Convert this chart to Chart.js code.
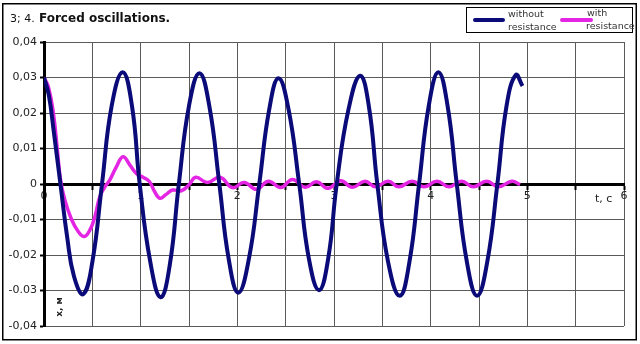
<!DOCTYPE html>
<html>
<head>
<meta charset="utf-8">
<title>Forced oscillations</title>
<script src="https://cdn.jsdelivr.net/npm/chart.js@4/dist/chart.umd.min.js"></script>
<style>
  html, body { margin: 0; padding: 0; background: #fff; }
  #wrap { width: 640px; height: 344px; }
</style>
</head>
<body>
<div id="wrap"><canvas id="chart" width="640" height="344"></canvas></div>
<script>
// time, s
const tBlue = [0, 0.05, 0.10, 0.17, 0.24, 0.31, 0.406, 0.50, 0.60, 0.70, 0.814, 0.91, 0.99, 1.10, 1.206,
  1.30, 1.395, 1.50, 1.608, 1.71, 1.814, 1.91, 2.01, 2.12, 2.227, 2.33, 2.426, 2.53, 2.64, 2.74, 2.845,
  2.94, 3.028, 3.15, 3.27, 3.36, 3.448, 3.56, 3.68, 3.78, 3.88, 3.98, 4.08, 4.175, 4.27, 4.375, 4.48,
  4.585, 4.69, 4.785, 4.88, 4.95];
// x, m  (without resistance)
const xBlue = [0.030, 0.025, 0.015, 0, -0.015, -0.026, -0.031, -0.022, 0, 0.022, 0.0315, 0.022, 0, -0.022, -0.0319,
  -0.023, 0, 0.022, 0.0312, 0.022, 0, -0.021, -0.0306, -0.021, 0, 0.021, 0.0298, 0.021, 0, -0.021, -0.0299,
  -0.021, 0, 0.021, 0.0305, 0.022, 0, -0.022, -0.0315, -0.022, 0, 0.022, 0.0315, 0.022, 0, -0.022, -0.0315,
  -0.022, 0, 0.022, 0.0307, 0.0276];

const tPink = [0, 0.045, 0.097, 0.138, 0.172, 0.216, 0.285, 0.354, 0.416, 0.474, 0.526, 0.577, 0.63, 0.68,
  0.75, 0.818, 0.887, 0.955, 1.02, 1.09, 1.145, 1.20, 1.26, 1.33, 1.42, 1.50, 1.57, 1.69, 1.82, 1.95, 2.07,
  2.20, 2.32, 2.45, 2.57, 2.70, 2.82, 2.94, 3.07, 3.19, 3.32, 3.43, 3.56, 3.67, 3.81, 3.93, 4.065, 4.19,
  4.32, 4.44, 4.58, 4.70, 4.84, 4.925];
// x, m  (with resistance)
const xPink = [0.030, 0.0274, 0.020, 0.0096, 0.001, -0.0045, -0.010, -0.0134, -0.0148, -0.013, -0.0092, -0.0036,
  -0.0008, 0.0011, 0.0049, 0.0077, 0.0054, 0.003, 0.002, 0.0007, -0.0022, -0.004, -0.003, -0.0017, -0.0019,
  -0.0002, 0.0019, 0.0004, 0.0019, -0.0010, 0.0004, -0.0015, 0.0008, -0.0010, 0.0013, -0.0009, 0.0006,
  -0.0012, 0.0009, -0.0009, 0.0008, -0.0008, 0.0008, -0.0008, 0.0008, -0.0008, 0.0008, -0.0008, 0.0008,
  -0.0008, 0.0008, -0.0008, 0.0008, -0.0002];

const seriesNames = ['without resistance', 'with resistance'];
const xTickLabels = ['0', '1', '2', '3', '4', '5', '6'];
const yTickLabels = ['-0,04', '-0.03', '-0,02', '-0,01', '0', '0,01', '0,02', '0,03', '0,04'];

const FONT = "'DejaVu Sans', Verdana, sans-serif";
const BLUE = '#0a0a78';
const PINK = '#e426e4';

const toPoints = (ts, xs) => ts.map((t, i) => ({ x: t, y: xs[i] }));

// frame, title, legend and axis names
const decorations = {
    id: 'decorations',
    beforeDraw(chart) {
        const c = chart.ctx;
        c.save();
        c.fillStyle = '#fff';
        c.fillRect(0, 0, chart.width, chart.height);
        c.restore();
    },
    afterDraw(chart) {
        const c = chart.ctx;
        c.save();
        // outer frame
        c.strokeStyle = '#000';
        c.lineWidth = 1.5;
        c.strokeRect(2.75, 3.75, 633.5, 336);

        // title
        c.fillStyle = '#111';
        c.textBaseline = 'alphabetic';
        c.textAlign = 'left';
        c.font = '11px ' + FONT;
        c.fillText('3; 4.', 10, 22);
        c.font = 'bold 12px ' + FONT;
        c.fillText('Forced oscillations.', 39, 22);

        // legend
        c.fillStyle = '#fff';
        c.fillRect(466, 7, 166, 25);
        c.strokeStyle = '#000';
        c.lineWidth = 1;
        c.strokeRect(466.5, 7.5, 166, 25);
        c.lineCap = 'round';
        c.lineWidth = 4;
        c.strokeStyle = BLUE;
        c.beginPath(); c.moveTo(475, 20); c.lineTo(503, 20); c.stroke();
        c.strokeStyle = PINK;
        c.beginPath(); c.moveTo(562, 20); c.lineTo(591, 20); c.stroke();
        c.fillStyle = '#333';
        c.font = '9.5px ' + FONT;
        const [w1, w2] = seriesNames[0].split(' ');
        const [p1, p2] = seriesNames[1].split(' ');
        c.fillText(w1, 508, 16.5);
        c.fillText(w2, 508, 29.5);
        c.fillText(p1, 587, 16);
        c.fillText(p2, 586, 29);

        // axis names
        c.fillStyle = '#222';
        c.font = '11px ' + FONT;
        c.fillText('t, с', 595, 202);
        c.save();
        c.translate(61.5, 307);
        c.rotate(-Math.PI / 2);
        c.textAlign = 'center';
        c.font = 'bold 9px ' + FONT;
        c.fillText('x, м', 0, 0);
        c.restore();
        c.restore();
    }
};

new Chart(document.getElementById('chart'), {
    type: 'line',
    data: {
        datasets: [
            {
                label: seriesNames[0],
                data: toPoints(tBlue, xBlue),
                borderColor: BLUE,
                borderWidth: 4,
                pointRadius: 0,
                tension: 0.45,
                fill: false
            },
            {
                label: seriesNames[1],
                data: toPoints(tPink, xPink),
                borderColor: PINK,
                borderWidth: 3.5,
                pointRadius: 0,
                tension: 0.45,
                fill: false
            }
        ]
    },
    options: {
        responsive: false,
        animation: false,
        events: [],
        layout: { padding: { top: 42, right: 16, bottom: 18, left: 0 } },
        plugins: {
            legend: { display: false },
            title: { display: false },
            tooltip: { enabled: false }
        },
        scales: {
            x: {
                type: 'linear',
                min: 0,
                max: 6,
                position: { y: 0 },
                ticks: {
                    stepSize: 0.5,
                    autoSkip: false,
                    maxRotation: 0,
                    padding: 2,
                    color: '#222',
                    font: { family: FONT, size: 11 },
                    callback: (v) => {
                        const r = Math.round(v);
                        return Math.abs(v - r) < 1e-6 ? xTickLabels[r] : '';
                    }
                },
                grid: { color: '#5a5a5a', lineWidth: 1, tickLength: 4, tickColor: '#000', tickWidth: 2 },
                border: { color: '#000', width: 3 }
            },
            y: {
                min: -0.04,
                max: 0.04,
                afterFit: (scale) => { scale.width = 44; },
                ticks: {
                    stepSize: 0.01,
                    padding: 3,
                    color: '#222',
                    font: { family: FONT, size: 11 },
                    callback: (v) => yTickLabels[Math.round((v + 0.04) * 100)]
                },
                grid: { color: '#5a5a5a', lineWidth: 1, tickLength: 4, tickColor: '#000', tickWidth: 2 },
                border: { color: '#000', width: 3 }
            }
        }
    },
    plugins: [decorations]
});
</script>
</body>
</html>
